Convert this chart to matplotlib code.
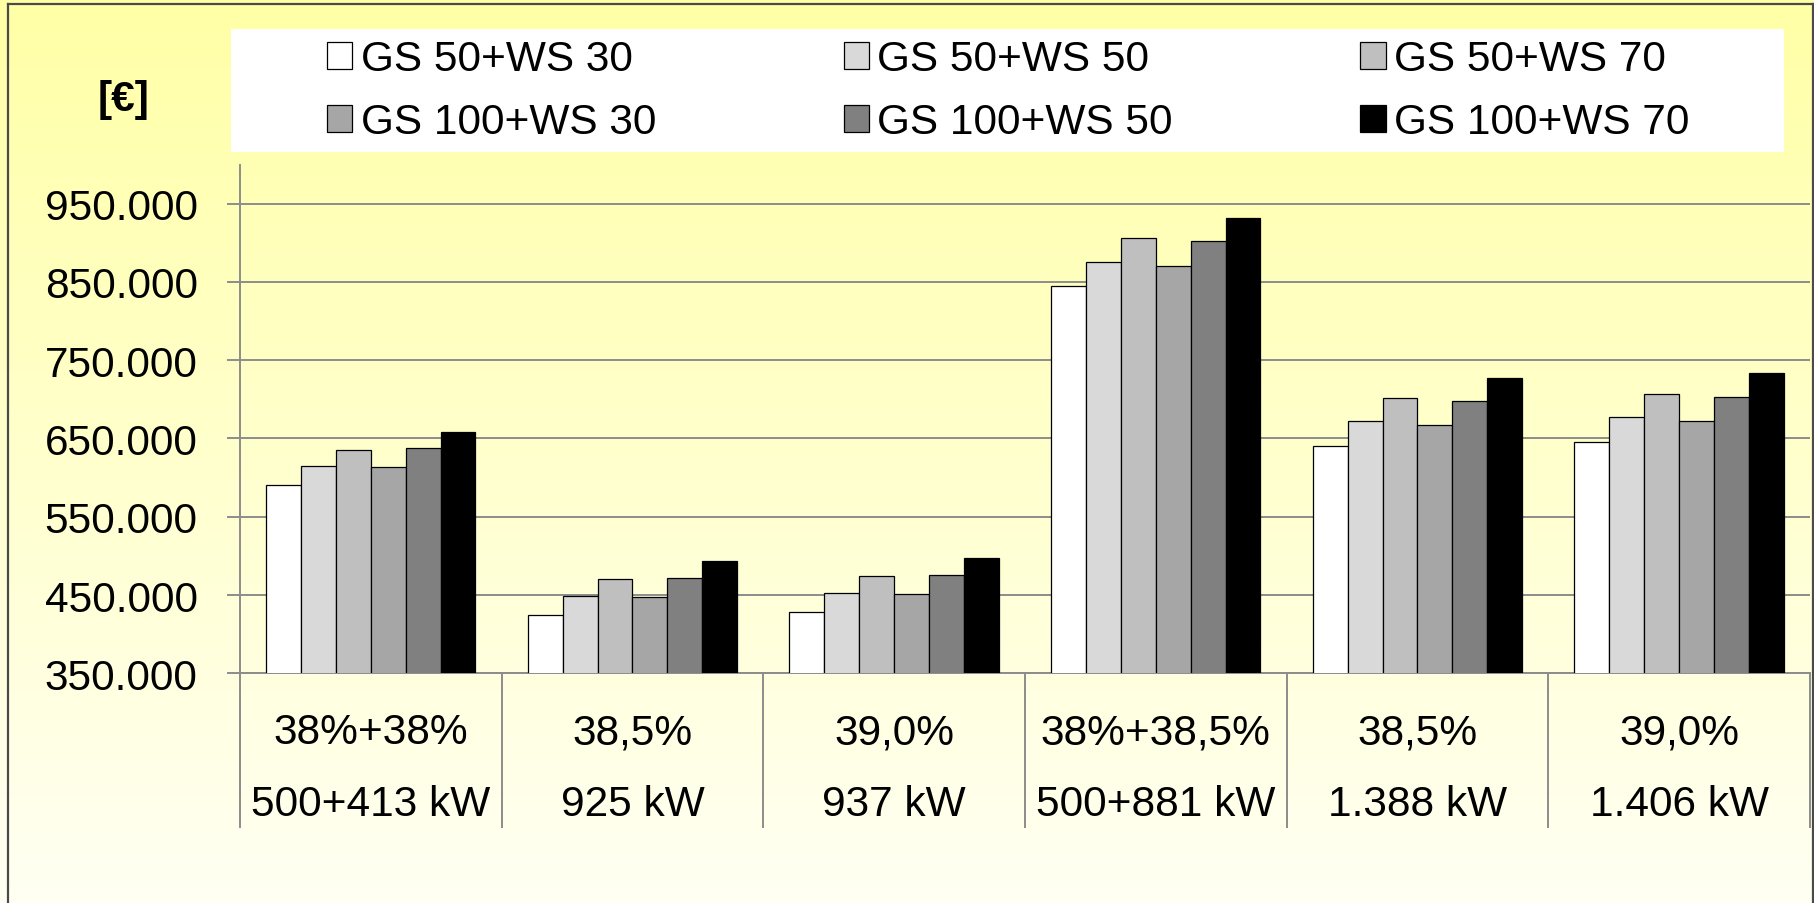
import matplotlib

matplotlib.use("Agg")
import matplotlib.pyplot as plt
import numpy as np
from matplotlib.lines import Line2D
from matplotlib.patches import Rectangle
from matplotlib.ticker import FuncFormatter

plt.rcParams["font.family"] = ["Liberation Sans", "DejaVu Sans"]

# data
efficiency = ["38%+38%", "38,5%", "39,0%", "38%+38,5%", "38,5%", "39,0%"]
power = ["500+413 kW", "925 kW", "937 kW", "500+881 kW", "1.388 kW", "1.406 kW"]
series_names = [
    "GS 50+WS 30", "GS 50+WS 50", "GS 50+WS 70",
    "GS 100+WS 30", "GS 100+WS 50", "GS 100+WS 70",
]
gs50_ws30 = [590400, 424900, 428300, 844400, 641000, 646100]
gs50_ws50 = [614200, 449100, 452100, 875900, 672100, 677600]
gs50_ws70 = [635900, 470800, 474200, 905700, 702300, 707400]
gs100_ws30 = [613000, 447900, 450900, 870800, 667400, 672100]
gs100_ws50 = [637200, 472100, 475100, 902300, 698500, 703600]
gs100_ws70 = [658500, 493000, 496800, 931700, 727800, 733000]
y_ticks = [350000, 450000, 550000, 650000, 750000, 850000, 950000]

series = [gs50_ws30, gs50_ws50, gs50_ws70, gs100_ws30, gs100_ws50, gs100_ws70]
colors = ["#FFFFFF", "#D9D9D9", "#BFBFBF", "#A6A6A6", "#808080", "#000000"]

W, H = 1815, 904
FS = 30.5
fig = plt.figure(figsize=(W / 100, H / 100), dpi=100)

# background gradient over the whole figure
bg = fig.add_axes([0, 0, 1, 1], zorder=-10)
grad = np.linspace(0, 1, 256)[:, None]
top = np.array([255, 255, 166]) / 255
bot = np.array([255, 255, 243]) / 255
img = top[None, None, :] * (1 - grad[..., None]) + bot[None, None, :] * grad[..., None]
bg.imshow(np.repeat(img, 2, axis=1), aspect="auto", extent=[0, 1, 0, 1])
bg.set_axis_off()

# frame round the chart
for xs, ys in [([8, 8], [904, 5]), ([8, 1813], [5, 5]), ([1813, 1813], [5, 904])]:
    fig.add_artist(Line2D([x / W for x in xs], [1 - y / H for y in ys],
                          color="#4a4a4a", linewidth=1.6))

ax = fig.add_axes([240 / W, 1 - 674.3 / H, (1810 - 240) / W, (674.3 - 165.5) / H])
ax.patch.set_alpha(0)

x = np.arange(len(efficiency))
bw = 0.8 / len(series)
handles = []
for i, (vals, name, col) in enumerate(zip(series, series_names, colors)):
    b = ax.bar(x - 0.4 + bw * (i + 0.5), vals, bw, color=col, edgecolor="black",
               linewidth=0.9, label=name, zorder=3)
    handles.append(b)

ax.set_xlim(-0.5, len(efficiency) - 0.5)
ax.set_ylim(350000, 1000000)
ax.set_yticks(y_ticks)
ax.yaxis.set_major_formatter(FuncFormatter(lambda v, p: f"{v:,.0f}".replace(",", ".")))
ax.grid(axis="y", color="#8c8c8c", linewidth=1.4, zorder=1)
ax.set_axisbelow(True)
ax.tick_params(axis="y", direction="out", length=9.5, width=1.4, color="#8c8c8c",
               labelsize=FS, pad=21)
ax.tick_params(axis="x", length=0, labelbottom=False)
for s in ["top", "right"]:
    ax.spines[s].set_visible(False)
for s in ["left", "bottom"]:
    ax.spines[s].set_color("#8c8c8c")
    ax.spines[s].set_linewidth(1.4)

# category table under the axis
trans = ax.get_xaxis_transform()
for b in np.arange(len(efficiency) + 1) - 0.5:
    ax.plot([b, b], [0, -0.302], transform=trans, color="#8c8c8c", linewidth=1.4,
            clip_on=False)
for xi, e, p in zip(x, efficiency, power):
    ax.text(xi, -0.137, e, transform=trans, ha="center", va="baseline", fontsize=FS)
    ax.text(xi, -0.278, p, transform=trans, ha="center", va="baseline", fontsize=FS)

# unit label
fig.text(124 / W, 1 - 100 / H, "[€]", ha="center", va="center", fontsize=FS,
         fontweight="bold")

# legend on a white panel
fig.add_artist(Rectangle((231 / W, 1 - 153 / H), (1784 - 231) / W, 123 / H,
                         transform=fig.transFigure, facecolor="white",
                         edgecolor="none", zorder=0))
order = [0, 3, 1, 4, 2, 5]
leg = fig.legend([handles[i] for i in order], [series_names[i] for i in order],
                 ncol=3, loc="upper left", bbox_to_anchor=(327 / W, 1 - 40 / H),
                 frameon=False, fontsize=FS, borderpad=0, borderaxespad=0,
                 handlelength=0.6, handleheight=0.6, handletextpad=0.2,
                 columnspacing=4.42, labelspacing=0.55)
leg.set_zorder(5)

fig.savefig("out.png", dpi=100)
